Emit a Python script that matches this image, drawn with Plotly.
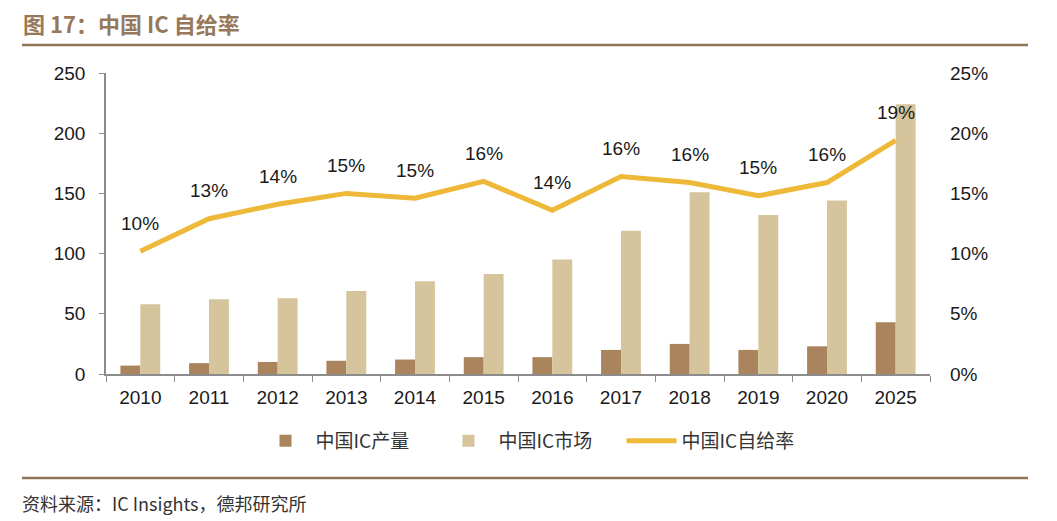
import plotly.graph_objects as go

years = ["2010", "2011", "2012", "2013", "2014", "2015", "2016", "2017", "2018", "2019", "2020", "2025"]
ic_production = [7, 9, 10, 11, 12, 14, 14, 20, 25, 20, 23, 43]
ic_market = [58, 62, 63, 69, 77, 83, 95, 119, 151, 132, 144, 224]
self_sufficiency = [0.102, 0.129, 0.141, 0.150, 0.146, 0.160, 0.136, 0.164, 0.159, 0.148, 0.159, 0.194]

left_ticks = [0, 50, 100, 150, 200, 250]
right_ticks = [0, 0.05, 0.10, 0.15, 0.20, 0.25]

FONT = "Liberation Sans, Arial, sans-serif"
CJK = "Noto Sans CJK SC, sans-serif"

# plot area in page pixels
PL, PR, PT, PB = 106, 930, 73, 374
PW, PH = PR - PL, PB - PT
def px(x):
    return (x - PL) / PW
def py(y):
    return (PB - y) / PH

fig = go.Figure()
fig.add_trace(go.Bar(x=years, y=ic_production, name="中国IC产量",
                     marker=dict(color="#A9845C", line=dict(width=0))))
fig.add_trace(go.Bar(x=years, y=ic_market, name="中国IC市场",
                     marker=dict(color="#D6C59C", line=dict(width=0))))
fig.add_trace(go.Scatter(x=years, y=self_sufficiency, name="中国IC自给率", yaxis="y2",
                         mode="lines", line=dict(color="#EEB838", width=5)))

for i, v in enumerate(self_sufficiency):
    fig.add_annotation(x=i, y=v, xref="x", yref="y2", text=f"{round(v*100):d}%", showarrow=False,
                       yshift=28, font=dict(family=FONT, size=19, color="#1a1a1a"))

# title
fig.add_annotation(xref="paper", yref="paper", x=px(21), y=py(23),
                   xanchor="left", yanchor="middle", showarrow=False,
                   text="<b>图 17：中国 IC 自给率</b>",
                   font=dict(family=CJK, size=22, color="#98785A"))
# source
fig.add_annotation(xref="paper", yref="paper", x=px(20), y=py(503),
                   xanchor="left", yanchor="middle", showarrow=False,
                   text="资料来源：IC Insights，德邦研究所",
                   font=dict(family=CJK, size=18, color="#333333"))

fig.add_shape(type="line", xref="paper", yref="paper",
              x0=px(22), x1=px(1028), y0=py(45), y1=py(45),
              line=dict(color="#8F7357", width=2.5))
fig.add_shape(type="line", xref="paper", yref="paper",
              x0=px(22), x1=px(1028), y0=py(478), y1=py(478),
              line=dict(color="#8F7357", width=2.5))

W, H = 1057, 521
OFF = 8  # page body margin
fig.update_layout(
    width=W, height=H,
    margin=dict(l=PL - OFF, r=W + OFF - PR, t=PT - OFF, b=H + OFF - PB),
    paper_bgcolor="white", plot_bgcolor="white",
    barmode="group", bargap=0.42, bargroupgap=0,
    font=dict(family=FONT, size=19, color="#1a1a1a"),
    showlegend=True,
    legend=dict(orientation="h", x=px(530), xanchor="center",
                y=py(441), yanchor="middle",
                font=dict(family=CJK, size=19, color="#333333"),
                itemwidth=50, entrywidth=118, entrywidthmode="pixels",
                traceorder="normal"),
    xaxis=dict(type="category", range=[-0.5, len(years) - 0.5], showline=True,
               linecolor="#8c8c8c", linewidth=1.5,
               ticks="outside", tickson="boundaries", ticklen=6, tickcolor="#8c8c8c",
               showgrid=False, zeroline=False, ticklabelstandoff=5,
               tickfont=dict(family=FONT, size=19, color="#1a1a1a")),
    yaxis=dict(range=[0, 250], tickvals=left_ticks, showline=True, linecolor="#8c8c8c",
               linewidth=1.5, ticks="outside", ticklen=5, tickcolor="#8c8c8c",
               showgrid=False, zeroline=False, ticklabelstandoff=10,
               tickfont=dict(family=FONT, size=19, color="#1a1a1a")),
    yaxis2=dict(range=[0, 0.25], tickvals=right_ticks, tickformat=".0%", overlaying="y",
                side="right", showline=False, showgrid=False, zeroline=False,
                ticks="", ticklabelstandoff=19,
                tickfont=dict(family=FONT, size=19, color="#1a1a1a")),
)

fig.write_html("out.html")
